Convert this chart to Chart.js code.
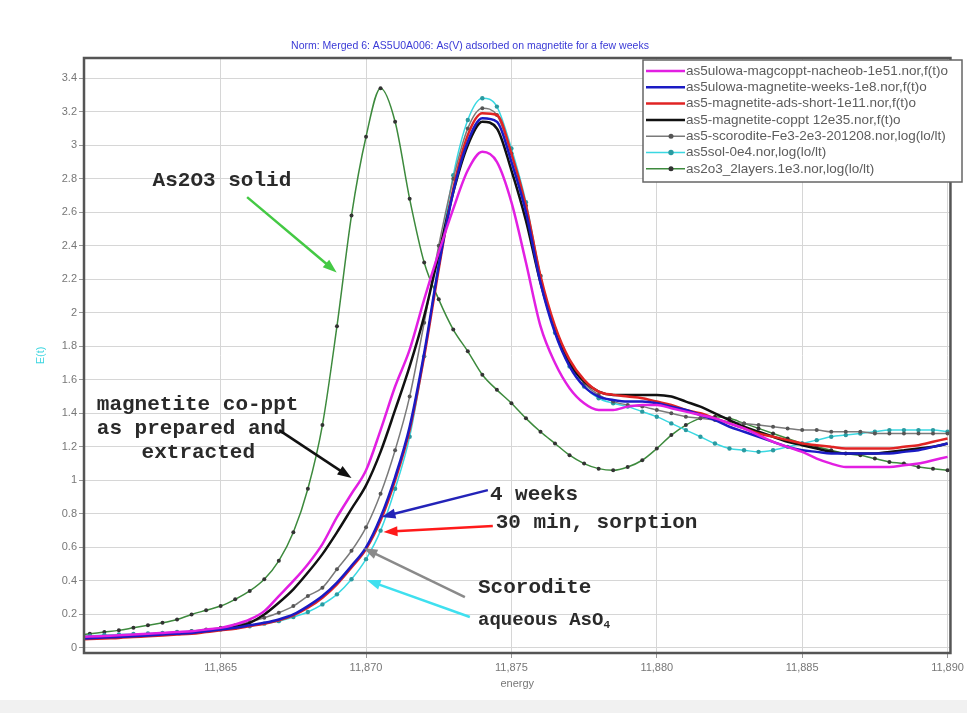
<!DOCTYPE html>
<html>
<head>
<meta charset="utf-8">
<title>As(V) adsorbed on magnetite</title>
<script src="https://cdn.jsdelivr.net/npm/chart.js@4.4.0/dist/chart.umd.min.js"></script>
<style>
  html, body { margin: 0; padding: 0; background: #fff; }
  #wrap { width: 967px; height: 713px; }
</style>
</head>
<body>
<div id="wrap"><canvas id="xanes" width="967" height="713"></canvas></div>
<script>
// energy grid (eV), 0.5 eV steps
const energy = [
  11860.0, 11860.5, 11861.0, 11861.5, 11862.0, 11862.5, 11863.0, 11863.5, 11864.0, 11864.5,
  11865.0, 11865.5, 11866.0, 11866.5, 11867.0, 11867.5, 11868.0, 11868.5, 11869.0, 11869.5,
  11870.0, 11870.5, 11871.0, 11871.5, 11872.0, 11872.5, 11873.0, 11873.5, 11874.0, 11874.5,
  11875.0, 11875.5, 11876.0, 11876.5, 11877.0, 11877.5, 11878.0, 11878.5, 11879.0, 11879.5,
  11880.0, 11880.5, 11881.0, 11881.5, 11882.0, 11882.5, 11883.0, 11883.5, 11884.0, 11884.5,
  11885.0, 11885.5, 11886.0, 11886.5, 11887.0, 11887.5, 11888.0, 11888.5, 11889.0, 11889.5,
  11890.0
];

const coPptNacheob = [
  0.065, 0.068, 0.072, 0.076, 0.08, 0.085, 0.09, 0.095, 0.10, 0.11,
  0.12, 0.14, 0.17, 0.22, 0.31, 0.40, 0.50, 0.62, 0.78, 0.92,
  1.06, 1.30, 1.56, 1.78, 2.08, 2.36, 2.62, 2.85, 2.96, 2.90,
  2.66, 2.30, 1.92, 1.70, 1.55, 1.46, 1.42, 1.42, 1.44, 1.45,
  1.45, 1.43, 1.41, 1.39, 1.37, 1.34, 1.31, 1.27, 1.23, 1.20,
  1.17, 1.13, 1.10, 1.08, 1.08, 1.08, 1.08, 1.09, 1.10, 1.12,
  1.14
];
const weeks4 = [
  0.055, 0.058, 0.062, 0.066, 0.07, 0.075, 0.08, 0.085, 0.09, 0.10,
  0.11, 0.12, 0.135, 0.15, 0.17, 0.20, 0.25, 0.31, 0.39, 0.49,
  0.60, 0.78, 1.02, 1.32, 1.76, 2.28, 2.72, 3.02, 3.16, 3.14,
  2.90, 2.60, 2.18, 1.88, 1.68, 1.56, 1.50, 1.48, 1.47, 1.47,
  1.46, 1.44, 1.42, 1.39, 1.36, 1.32, 1.29, 1.26, 1.23, 1.20,
  1.18, 1.17, 1.16, 1.16, 1.16, 1.16, 1.16, 1.17, 1.18, 1.20,
  1.22
];
const adsShort = [
  0.05, 0.053, 0.057, 0.06, 0.065, 0.07, 0.075, 0.08, 0.085, 0.095,
  0.105, 0.115, 0.13, 0.145, 0.165, 0.195, 0.24, 0.30, 0.38, 0.48,
  0.59, 0.76, 1.00, 1.30, 1.74, 2.26, 2.74, 3.06, 3.19, 3.18,
  2.95, 2.64, 2.22, 1.92, 1.72, 1.60, 1.53, 1.51, 1.50, 1.49,
  1.47, 1.45, 1.42, 1.40, 1.37, 1.34, 1.31, 1.28, 1.26, 1.24,
  1.22, 1.21, 1.20, 1.19, 1.19, 1.19, 1.19, 1.20, 1.21, 1.23,
  1.25
];
const coPpt = [
  0.06, 0.063, 0.067, 0.07, 0.075, 0.08, 0.085, 0.09, 0.095, 0.10,
  0.11, 0.125, 0.15, 0.20, 0.27, 0.35, 0.45, 0.56, 0.69, 0.83,
  0.97, 1.17, 1.42, 1.68, 1.98, 2.35, 2.72, 3.00, 3.14, 3.10,
  2.85, 2.55, 2.18, 1.90, 1.70, 1.59, 1.53, 1.51, 1.51, 1.51,
  1.51, 1.50, 1.47, 1.44, 1.40, 1.36, 1.32, 1.29, 1.26, 1.23,
  1.21, 1.19, 1.17, 1.16, 1.16, 1.16, 1.17, 1.18, 1.19, 1.20,
  1.22
];
const scorodite = [
  0.06, 0.062, 0.065, 0.068, 0.072, 0.078, 0.085, 0.092, 0.10, 0.11,
  0.12, 0.135, 0.155, 0.18, 0.21, 0.25, 0.31, 0.36, 0.47, 0.58,
  0.72, 0.92, 1.18, 1.50, 1.94, 2.40, 2.80, 3.10, 3.22, 3.18,
  2.95, 2.64, 2.22, 1.90, 1.70, 1.58, 1.51, 1.47, 1.45, 1.44,
  1.42, 1.40, 1.38, 1.37, 1.36, 1.35, 1.34, 1.33, 1.32, 1.31,
  1.30, 1.30, 1.29, 1.29, 1.29, 1.28, 1.28, 1.28, 1.28, 1.28,
  1.28
];
const aqueous = [
  0.07, 0.073, 0.077, 0.08, 0.083, 0.086, 0.09, 0.095, 0.10, 0.105,
  0.11, 0.12, 0.13, 0.145, 0.16, 0.185, 0.215, 0.26, 0.32, 0.41,
  0.53, 0.70, 0.95, 1.26, 1.74, 2.30, 2.82, 3.15, 3.28, 3.23,
  2.98, 2.66, 2.22, 1.88, 1.68, 1.56, 1.49, 1.46, 1.44, 1.41,
  1.38, 1.34, 1.30, 1.26, 1.22, 1.19, 1.18, 1.17, 1.18, 1.20,
  1.22, 1.24, 1.26, 1.27, 1.28, 1.29, 1.30, 1.30, 1.30, 1.30,
  1.29
];
const as2o3 = [
  0.075, 0.085, 0.095, 0.105, 0.12, 0.135, 0.15, 0.17, 0.20, 0.225,
  0.25, 0.29, 0.34, 0.41, 0.52, 0.69, 0.95, 1.33, 1.92, 2.58,
  3.05, 3.34, 3.14, 2.68, 2.30, 2.08, 1.90, 1.77, 1.63, 1.54,
  1.46, 1.37, 1.29, 1.22, 1.15, 1.10, 1.07, 1.06, 1.08, 1.12,
  1.19, 1.27, 1.33, 1.37, 1.38, 1.37, 1.34, 1.31, 1.28, 1.25,
  1.22, 1.20, 1.18, 1.16, 1.15, 1.13, 1.11, 1.10, 1.08, 1.07,
  1.06
];

const xTicks = [11865, 11870, 11875, 11880, 11885, 11890];
const yTicks = [0, 0.2, 0.4, 0.6, 0.8, 1, 1.2, 1.4, 1.6, 1.8, 2, 2.2, 2.4, 2.6, 2.8, 3, 3.2, 3.4];

const seriesLabels = [
  'as5ulowa-magcoppt-nacheob-1e51.nor,f(t)o',
  'as5ulowa-magnetite-weeks-1e8.nor,f(t)o',
  'as5-magnetite-ads-short-1e11.nor,f(t)o',
  'as5-magnetite-coppt 12e35.nor,f(t)o',
  'as5-scorodite-Fe3-2e3-201208.nor,log(lo/lt)',
  'as5sol-0e4.nor,log(lo/lt)',
  'as2o3_2layers.1e3.nor,log(lo/lt)'
];

// text labels with arrows, placed in data units
const notes = [
  { lines: ['As2O3 solid'], x: 11862.66, y: 2.79, color: '#2a2a2a',
    arrow: { from: [11865.91, 2.69], to: [11868.99, 2.24], color: '#44c944' } },
  { lines: ['magnetite co-ppt', 'as prepared and'], x: 11860.74, y: 1.45, color: '#2a2a2a' },
  { lines: ['extracted'], x: 11862.28, y: 1.163, color: '#2a2a2a',
    arrow: { from: [11867.01, 1.30], to: [11869.50, 1.014], color: '#111' } },
  { lines: ['4 weeks'], x: 11874.26, y: 0.913, color: '#2a2a2a',
    arrow: { from: [11874.19, 0.942], to: [11870.53, 0.781], color: '#2323b8' } },
  { lines: ['30 min, sorption'], x: 11874.46, y: 0.746, color: '#2a2a2a',
    arrow: { from: [11874.36, 0.728], to: [11870.60, 0.692], color: '#ff1a1a' } },
  { lines: ['Scorodite'], x: 11873.85, y: 0.358, color: '#2a2a2a',
    arrow: { from: [11873.40, 0.304], to: [11869.91, 0.596], color: '#8a8a8a' } },
  { lines: ['aqueous AsO'], sub: '4', x: 11873.85, y: 0.167, color: '#2a2a2a', size: 19,
    arrow: { from: [11873.57, 0.185], to: [11870.02, 0.405], color: '#3fe0ef' } }
];

function pts(vals) {
  return energy.map((e, i) => ({ x: e, y: vals[i] }));
}

function drawArrow(ctx, x1, y1, x2, y2, color) {
  const ang = Math.atan2(y2 - y1, x2 - x1);
  const head = 14, half = 5;
  ctx.save();
  ctx.strokeStyle = color;
  ctx.fillStyle = color;
  ctx.lineWidth = 2.5;
  ctx.beginPath();
  ctx.moveTo(x1, y1);
  ctx.lineTo(x2 - Math.cos(ang) * head * 0.8, y2 - Math.sin(ang) * head * 0.8);
  ctx.stroke();
  ctx.beginPath();
  ctx.moveTo(x2, y2);
  ctx.lineTo(x2 - Math.cos(ang) * head - Math.sin(ang) * half, y2 - Math.sin(ang) * head + Math.cos(ang) * half);
  ctx.lineTo(x2 - Math.cos(ang) * head + Math.sin(ang) * half, y2 - Math.sin(ang) * head - Math.cos(ang) * half);
  ctx.closePath();
  ctx.fill();
  ctx.restore();
}

const decorations = {
  id: 'decorations',
  beforeDraw(chart) {
    const ctx = chart.ctx;
    ctx.save();
    ctx.fillStyle = '#ffffff';
    ctx.fillRect(0, 0, chart.width, chart.height);
    ctx.fillStyle = '#f1f1f1';
    ctx.fillRect(0, 700, chart.width, chart.height - 700);
    ctx.restore();
  },
  afterDatasetsDraw(chart) {
    const ctx = chart.ctx;
    const xs = chart.scales.x, ys = chart.scales.y;
    notes.forEach(n => {
      if (n.arrow) {
        drawArrow(ctx,
          xs.getPixelForValue(n.arrow.from[0]), ys.getPixelForValue(n.arrow.from[1]),
          xs.getPixelForValue(n.arrow.to[0]), ys.getPixelForValue(n.arrow.to[1]),
          n.arrow.color);
      }
      const size = n.size || 21;
      ctx.save();
      ctx.font = 'bold ' + size + 'px "Liberation Mono", "DejaVu Sans Mono", monospace';
      ctx.fillStyle = n.color;
      ctx.textBaseline = 'middle';
      ctx.textAlign = 'left';
      const px = xs.getPixelForValue(n.x);
      let py = ys.getPixelForValue(n.y);
      n.lines.forEach((t, k) => {
        ctx.fillText(t, px, py + k * 24);
        if (n.sub && k === n.lines.length - 1) {
          const w = ctx.measureText(t).width;
          ctx.font = 'bold ' + Math.round(size * 0.6) + 'px "Liberation Mono", monospace';
          ctx.fillText(n.sub, px + w, py + k * 24 + 5);
        }
      });
      ctx.restore();
    });
  },
  afterDraw(chart) {
    const ctx = chart.ctx;
    const a = chart.chartArea;
    ctx.save();
    // plot frame
    ctx.strokeStyle = '#555';
    ctx.lineWidth = 2.5;
    ctx.strokeRect(a.left, a.top, a.right - a.left, a.bottom - a.top);

    // title
    ctx.fillStyle = '#3a3ad6';
    ctx.font = '10.5px "Liberation Sans", Arial, sans-serif';
    ctx.textAlign = 'center';
    ctx.textBaseline = 'middle';
    ctx.fillText('Norm: Merged 6: AS5U0A006: As(V) adsorbed on magnetite for a few weeks', 470, 46);

    // axis titles
    ctx.fillStyle = '#777';
    ctx.font = '11px "Liberation Sans", Arial, sans-serif';
    ctx.fillText('energy', (a.left + a.right) / 2, 684);
    ctx.save();
    ctx.translate(41, (a.top + a.bottom) / 2);
    ctx.rotate(-Math.PI / 2);
    ctx.fillStyle = '#3fd6e0';
    ctx.font = '11px "Liberation Sans", Arial, sans-serif';
    ctx.fillText('E(t)', 0, 0);
    ctx.restore();

    // legend box
    const bx = 643, by = 60, bw = 319, bh = 122;
    ctx.fillStyle = '#fff';
    ctx.fillRect(bx, by, bw, bh);
    ctx.strokeStyle = '#666';
    ctx.lineWidth = 1.5;
    ctx.strokeRect(bx, by, bw, bh);
    ctx.font = '13.5px "Liberation Sans", Arial, sans-serif';
    ctx.textAlign = 'left';
    chart.data.datasets.forEach((ds, i) => {
      const yy = by + 11 + i * 16.3;
      ctx.strokeStyle = ds.borderColor;
      ctx.lineWidth = ds.borderWidth;
      ctx.beginPath();
      ctx.moveTo(bx + 3, yy);
      ctx.lineTo(bx + 42, yy);
      ctx.stroke();
      if (ds.pointRadius > 0) {
        ctx.fillStyle = ds.pointBackgroundColor;
        ctx.beginPath();
        ctx.arc(bx + 28, yy, ds.pointRadius + 0.5, 0, Math.PI * 2);
        ctx.fill();
      }
      ctx.fillStyle = '#5c5c5c';
      ctx.fillText(ds.label, bx + 43, yy);
    });
    ctx.restore();
  }
};

function lineSet(label, vals, color, width) {
  return {
    label, data: pts(vals), borderColor: color, backgroundColor: color,
    borderWidth: width, pointRadius: 0, cubicInterpolationMode: 'monotone', fill: false
  };
}
function markerSet(label, vals, color, marker, r) {
  return {
    label, data: pts(vals), borderColor: color, backgroundColor: color,
    borderWidth: 1.5, pointRadius: r, pointBackgroundColor: marker,
    pointBorderColor: marker, pointBorderWidth: 0,
    cubicInterpolationMode: 'monotone', fill: false
  };
}

const datasets = [
  lineSet(seriesLabels[0], coPptNacheob, '#e21fe2', 2.5),
  lineSet(seriesLabels[1], weeks4, '#1b1bc4', 2.5),
  lineSet(seriesLabels[2], adsShort, '#e02424', 2.5),
  lineSet(seriesLabels[3], coPpt, '#111111', 2.5),
  markerSet(seriesLabels[4], scorodite, '#7a7a7a', '#555555', 2),
  markerSet(seriesLabels[5], aqueous, '#3ad8e2', '#2a9aa0', 2.2),
  markerSet(seriesLabels[6], as2o3, '#3d8a3d', '#333333', 2)
];

new Chart(document.getElementById('xanes'), {
  type: 'line',
  data: { datasets },
  plugins: [decorations],
  options: {
    responsive: false,
    animation: false,
    layout: { padding: { top: 58, right: 12, left: 0, bottom: 0 } },
    plugins: { legend: { display: false }, tooltip: { enabled: false } },
    scales: {
      x: {
        type: 'linear', min: 11860.3, max: 11890.1,
        afterBuildTicks: s => { s.ticks = xTicks.map(v => ({ value: v })); },
        afterFit: s => { s.height = 60; },
        grid: { color: '#d6d6d6', tickLength: 5, tickColor: '#999' },
        border: { display: false },
        ticks: {
          color: '#777', padding: 3, maxRotation: 0,
          font: { family: '"Liberation Sans", Arial, sans-serif', size: 11 },
          callback: v => v.toLocaleString('en-US')
        }
      },
      y: {
        type: 'linear', min: -0.03, max: 3.52,
        afterBuildTicks: s => { s.ticks = yTicks.map(v => ({ value: v })); },
        afterFit: s => { s.width = 84; },
        grid: { color: '#d6d6d6', tickLength: 5, tickColor: '#999' },
        border: { display: false },
        ticks: {
          color: '#777', padding: 2,
          font: { family: '"Liberation Sans", Arial, sans-serif', size: 11 },
          callback: v => String(+v.toFixed(1))
        }
      }
    }
  }
});
</script>
</body>
</html>
